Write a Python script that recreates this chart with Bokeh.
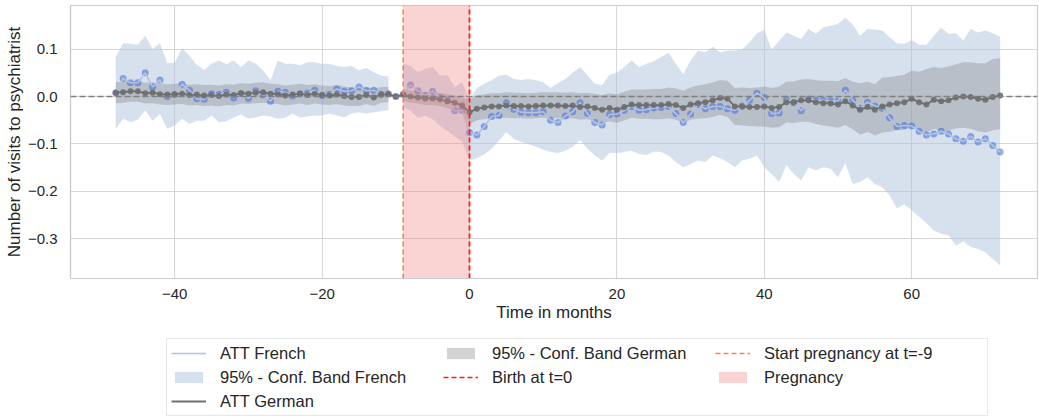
import numpy as np
from bokeh.plotting import figure
from bokeh.layouts import column
from bokeh.models import (ColumnDataSource, Legend, LegendItem, FixedTicker, Range1d,
                          Span, CustomJSTickFormatter)
from bokeh.embed import file_html
from bokeh.resources import INLINE

nan = float("nan")

# ---------------- data ----------------
months = list(range(-48, 73))

att_french = [
    # -48 .. -11
    0.008, 0.038, 0.029, 0.029, 0.050, 0.020, 0.035, 0.000, 0.004, 0.026,
    0.013, -0.005, -0.006, 0.006, 0.004, 0.009, -0.003, 0.006, -0.004, 0.012,
    0.003, -0.010, 0.011, 0.009, 0.001, 0.006, 0.007, 0.013, 0.002, 0.005,
    0.016, 0.011, 0.012, 0.020, 0.012, 0.013, 0.005, 0.006,
    # -10 (reference)
    0.0,
    # -9 .. -1
    0.005, 0.024, 0.012, 0.002, 0.011, -0.002, -0.008, -0.030, -0.029,
    # 0 .. 72
    -0.076, -0.081, -0.063, -0.042, -0.040, -0.013, -0.027, -0.033, -0.034, -0.034,
    -0.032, -0.050, -0.055, -0.041, -0.032, -0.013, -0.036, -0.055, -0.060, -0.038,
    -0.037, -0.029, -0.021, -0.029, -0.028, -0.024, -0.023, -0.021, -0.036, -0.055,
    -0.037, -0.017, -0.026, -0.021, -0.021, -0.026, -0.029, -0.020, -0.008, 0.007,
    -0.002, -0.036, -0.035, -0.006, -0.013, -0.030, -0.006, -0.008, -0.008, -0.009,
    -0.010, 0.013, -0.008, -0.025, -0.012, -0.020, -0.025, -0.045, -0.063, -0.061,
    -0.062, -0.073, -0.081, -0.079, -0.073, -0.079, -0.089, -0.094, -0.084, -0.096,
    -0.089, -0.103, -0.117,
]

french_hi = [
    0.083, 0.112, 0.111, 0.109, 0.128, 0.100, 0.112, 0.070, 0.071, 0.102,
    0.086, 0.067, 0.056, 0.069, 0.076, 0.068, 0.076, 0.062, 0.076, 0.069,
    0.055, 0.034, 0.076, 0.069, 0.069, 0.066, 0.072, 0.072, 0.069, 0.069,
    0.064, 0.062, 0.065, 0.055, 0.060, 0.051, 0.044, 0.042,
    nan,
    0.069, 0.065, 0.051, 0.058, 0.062, 0.044, 0.045, 0.020, 0.030,
    -0.008, 0.018, 0.027, 0.034, 0.044, 0.046, 0.037, 0.035, 0.037, 0.034,
    0.030, 0.018, 0.028, 0.037, 0.050, 0.062, 0.045, 0.027, 0.024, 0.046,
    0.050, 0.062, 0.076, 0.062, 0.069, 0.074, 0.083, 0.092, 0.069, 0.047,
    0.076, 0.097, 0.093, 0.105, 0.093, 0.097, 0.097, 0.099, 0.114, 0.133,
    0.140, 0.099, 0.117, 0.135, 0.128, 0.121, 0.142, 0.132, 0.146, 0.149,
    0.153, 0.166, 0.151, 0.128, 0.142, 0.141, 0.139, 0.125, 0.112, 0.111,
    0.119, 0.109, 0.109, 0.128, 0.145, 0.132, 0.133, 0.118, 0.142, 0.135,
    0.139, 0.133, 0.126,
]

french_lo = [
    -0.068, -0.047, -0.054, -0.049, -0.029, -0.051, -0.037, -0.068, -0.061, -0.047,
    -0.058, -0.051, -0.051, -0.040, -0.054, -0.052, -0.044, -0.038, -0.047, -0.044,
    -0.040, -0.042, -0.047, -0.045, -0.036, -0.044, -0.042, -0.040, -0.040, -0.036,
    -0.040, -0.044, -0.036, -0.033, -0.036, -0.033, -0.031, -0.029,
    nan,
    -0.022, -0.030, -0.045, -0.040, -0.048, -0.062, -0.072, -0.085, -0.095,
    -0.135, -0.130, -0.122, -0.110, -0.093, -0.075, -0.089, -0.096, -0.100, -0.106,
    -0.112, -0.117, -0.119, -0.114, -0.106, -0.092, -0.110, -0.124, -0.135, -0.119,
    -0.119, -0.117, -0.114, -0.121, -0.123, -0.116, -0.117, -0.124, -0.138, -0.149,
    -0.142, -0.135, -0.138, -0.124, -0.130, -0.138, -0.149, -0.135, -0.131, -0.124,
    -0.149, -0.163, -0.180, -0.145, -0.163, -0.177, -0.149, -0.156, -0.149, -0.152,
    -0.170, -0.140, -0.184, -0.180, -0.170, -0.184, -0.191, -0.208, -0.236, -0.227,
    -0.240, -0.253, -0.267, -0.282, -0.289, -0.292, -0.314, -0.305, -0.317, -0.321,
    -0.328, -0.342, -0.356,
]

att_german = [
    0.008, 0.009, 0.011, 0.011, 0.007, 0.008, 0.005, 0.004, 0.005, 0.006,
    0.003, 0.004, 0.002, 0.003, 0.001, 0.004, 0.003, 0.007, 0.006, 0.008,
    0.009, 0.006, 0.005, 0.002, 0.004, 0.006, 0.003, 0.006, 0.003, 0.002,
    0.004, 0.001, -0.001, -0.001, 0.003, -0.002, 0.004, 0.005,
    0.0,
    0.004, 0.000, -0.002, -0.004, -0.004, -0.006, -0.010, -0.013, -0.019,
    -0.033, -0.026, -0.023, -0.021, -0.021, -0.019, -0.020, -0.020, -0.021, -0.020,
    -0.019, -0.019, -0.019, -0.020, -0.019, -0.022, -0.021, -0.024, -0.028, -0.024,
    -0.028, -0.022, -0.017, -0.018, -0.018, -0.018, -0.018, -0.016, -0.018, -0.024,
    -0.017, -0.014, -0.012, -0.008, -0.003, -0.005, -0.021, -0.021, -0.022, -0.022,
    -0.021, -0.024, -0.022, -0.012, -0.012, -0.008, -0.008, -0.012, -0.014, -0.015,
    -0.017, -0.010, -0.019, -0.028, -0.022, -0.028, -0.021, -0.017, -0.014, -0.012,
    -0.005, -0.012, -0.017, -0.007, -0.010, -0.008, -0.002, 0.000, -0.001, -0.005,
    -0.007, -0.001, 0.002,
]

german_hi = [
    0.030, 0.031, 0.032, 0.032, 0.029, 0.030, 0.027, 0.026, 0.027, 0.028,
    0.025, 0.026, 0.024, 0.025, 0.023, 0.026, 0.025, 0.028, 0.027, 0.029,
    0.030, 0.027, 0.026, 0.023, 0.025, 0.027, 0.024, 0.026, 0.023, 0.022,
    0.024, 0.021, 0.019, 0.018, 0.021, 0.016, 0.020, 0.020,
    nan,
    0.016, 0.013, 0.011, 0.010, 0.010, 0.008, 0.005, 0.002, -0.003,
    -0.006, 0.002, 0.005, 0.007, 0.007, 0.009, 0.008, 0.008, 0.007, 0.008,
    0.009, 0.009, 0.009, 0.008, 0.009, 0.007, 0.008, 0.006, 0.003, 0.007,
    0.004, 0.010, 0.015, 0.015, 0.015, 0.016, 0.016, 0.019, 0.017, 0.012,
    0.019, 0.023, 0.026, 0.030, 0.035, 0.033, 0.018, 0.019, 0.018, 0.019,
    0.021, 0.018, 0.021, 0.031, 0.032, 0.036, 0.037, 0.034, 0.033, 0.033,
    0.032, 0.039, 0.031, 0.028, 0.031, 0.026, 0.040, 0.041, 0.043, 0.046,
    0.055, 0.052, 0.058, 0.062, 0.060, 0.063, 0.068, 0.072, 0.072, 0.070,
    0.070, 0.079, 0.081,
]

german_lo = [
    -0.014, -0.013, -0.011, -0.011, -0.015, -0.014, -0.017, -0.018, -0.017, -0.016,
    -0.019, -0.018, -0.020, -0.019, -0.021, -0.018, -0.019, -0.015, -0.016, -0.014,
    -0.013, -0.015, -0.016, -0.019, -0.017, -0.015, -0.018, -0.015, -0.017, -0.018,
    -0.016, -0.019, -0.020, -0.020, -0.016, -0.020, -0.013, -0.012,
    nan,
    -0.009, -0.013, -0.015, -0.018, -0.018, -0.020, -0.025, -0.028, -0.035,
    -0.058, -0.050, -0.048, -0.046, -0.046, -0.045, -0.046, -0.046, -0.047, -0.046,
    -0.045, -0.046, -0.046, -0.047, -0.046, -0.049, -0.048, -0.052, -0.056, -0.052,
    -0.056, -0.050, -0.045, -0.047, -0.047, -0.048, -0.048, -0.046, -0.049, -0.056,
    -0.049, -0.047, -0.046, -0.043, -0.039, -0.043, -0.060, -0.061, -0.062, -0.063,
    -0.063, -0.066, -0.065, -0.055, -0.056, -0.053, -0.053, -0.058, -0.061, -0.063,
    -0.066, -0.060, -0.069, -0.080, -0.075, -0.082, -0.076, -0.074, -0.071, -0.070,
    -0.064, -0.072, -0.077, -0.068, -0.073, -0.072, -0.067, -0.066, -0.068, -0.073,
    -0.076, -0.071, -0.069,
]

reference_month = -10
pregnancy_start = -9
birth = 0

x_tick_values = [-40, -20, 0, 20, 40, 60]
y_tick_values = [-0.3, -0.2, -0.1, 0.0, 0.1]
x_label = "Time in months"
y_label = "Number of visits to psychiatrist"

labels = {
    "att_fr": "ATT French",
    "band_fr": "95% - Conf. Band French",
    "att_de": "ATT German",
    "band_de": "95% - Conf. Band German",
    "birth": "Birth at t=0",
    "start": "Start pregnancy at t=-9",
    "preg": "Pregnancy",
}

# ---------------- styles ----------------
FONT = "Liberation Sans"
TXT = "#262626"
SPINE = "#cccccc"
C_FR_BAND = "#b0c4de"
C_FR_DOT = "#4169e1"
C_DE = "#6e6e6e"
C_DE_BAND = "#808080"
C_PREG = "#f08080"
C_START = "#ff7f50"
C_BIRTH = "#ff1a1a"

# ---------------- build ----------------
t = np.array(months, dtype=float)
fr = np.array(att_french, dtype=float)
de = np.array(att_german, dtype=float)
flo = np.array(french_lo, dtype=float)
fhi = np.array(french_hi, dtype=float)
glo = np.array(german_lo, dtype=float)
ghi = np.array(german_hi, dtype=float)

pre = t < reference_month
post = t > reference_month

src = ColumnDataSource(dict(t=t, fr=fr, de=de))
src_pre = ColumnDataSource(dict(t=t[pre], flo=flo[pre], fhi=fhi[pre], glo=glo[pre], ghi=ghi[pre]))
src_post = ColumnDataSource(dict(t=t[post], flo=flo[post], fhi=fhi[post], glo=glo[post], ghi=ghi[post]))

X0, X1 = -54.14, 77.07
Y0, Y1 = -0.3832, 0.1916

p = figure(frame_width=967, frame_height=273,
           x_range=Range1d(X0, X1), y_range=Range1d(Y0, Y1),
           output_backend="svg", toolbar_location=None,
           min_border_left=70, min_border_right=2, min_border_top=5, min_border_bottom=54,
           background_fill_color="white", border_fill_color="white")

p.outline_line_color = SPINE
p.outline_line_width = 1.2

for ax in (p.xaxis[0], p.yaxis[0]):
    ax.axis_line_color = SPINE
    ax.axis_line_width = 1.2
    ax.major_tick_line_color = None
    ax.minor_tick_line_color = None
    ax.major_label_text_font = FONT
    ax.major_label_text_font_size = "15px"
    ax.major_label_text_color = TXT
    ax.axis_label_text_font = FONT
    ax.axis_label_text_font_size = "17px"
    ax.axis_label_text_font_style = "normal"
    ax.axis_label_text_color = TXT

p.xaxis.ticker = FixedTicker(ticks=x_tick_values)
p.yaxis.ticker = FixedTicker(ticks=y_tick_values)
p.xaxis.formatter = CustomJSTickFormatter(code="return tick.toFixed(0).replace('-', '\u2212');")
p.yaxis.formatter = CustomJSTickFormatter(code="return tick.toFixed(1).replace('-', '\u2212');")
p.xaxis.major_label_standoff = 4
p.yaxis.major_label_standoff = 7
p.xaxis.axis_label = x_label
p.yaxis.axis_label = y_label
p.xaxis.axis_label_standoff = 1
p.yaxis.axis_label_standoff = 1

p.xgrid.grid_line_color = "#d6d6d6"
p.ygrid.grid_line_color = "#d6d6d6"
p.xgrid.grid_line_width = 1.1
p.ygrid.grid_line_width = 1.1

# bands
p.varea(x="t", y1="flo", y2="fhi", source=src_pre, fill_color=C_FR_BAND, fill_alpha=0.5)
p.varea(x="t", y1="flo", y2="fhi", source=src_post, fill_color=C_FR_BAND, fill_alpha=0.5)
p.varea(x="t", y1="glo", y2="ghi", source=src_pre, fill_color=C_DE_BAND, fill_alpha=0.35)
p.varea(x="t", y1="glo", y2="ghi", source=src_post, fill_color=C_DE_BAND, fill_alpha=0.35)

# French ATT
p.scatter(x="t", y="fr", source=src, size=7, fill_color=C_FR_DOT, fill_alpha=0.55, line_color=None)
p.line(x="t", y="fr", source=src, line_color=C_FR_BAND, line_width=1.6)

# German ATT
p.scatter(x="t", y="de", source=src, size=6, fill_color=C_DE, fill_alpha=0.9, line_color=None)
p.line(x="t", y="de", source=src, line_color=C_DE, line_width=1.8)

# pregnancy
p.quad(left=[pregnancy_start], right=[birth], bottom=[Y0], top=[Y1],
       fill_color=C_PREG, fill_alpha=0.35, line_color=None)

# zero line
p.add_layout(Span(location=0, dimension="width", line_color="#808080",
                  line_width=1.5, line_dash="6 3"))

p.segment(x0=[pregnancy_start], x1=[pregnancy_start], y0=[Y0], y1=[Y1],
          line_color=C_START, line_width=1.6, line_dash="5 3")
p.segment(x0=[birth], x1=[birth], y0=[Y0], y1=[Y1],
          line_color=C_BIRTH, line_width=1.8, line_dash="5 3")

# ---------------- legend (own strip below the plot) ----------------
lg_fig = figure(width=1039, height=86, x_range=Range1d(0, 1), y_range=Range1d(0, 1),
                output_backend="svg", toolbar_location=None,
                min_border_left=0, min_border_right=0, min_border_top=0, min_border_bottom=0,
                background_fill_color="white", border_fill_color="white")
lg_fig.axis.visible = False
lg_fig.grid.visible = False
lg_fig.outline_line_color = None

# key renderers: a single point kept outside the strip's visible range
key = ColumnDataSource(dict(x=[-5.0], y=[-5.0], y2=[-5.0]))
k_fr = lg_fig.line(x="x", y="y", source=key, line_color=C_FR_BAND, line_width=1.6)
k_frb = lg_fig.varea(x="x", y1="y", y2="y2", source=key, fill_color=C_FR_BAND, fill_alpha=0.5)
k_de = lg_fig.line(x="x", y="y", source=key, line_color=C_DE, line_width=1.8)
k_deb = lg_fig.varea(x="x", y1="y", y2="y2", source=key, fill_color=C_DE_BAND, fill_alpha=0.35)
k_birth = lg_fig.line(x="x", y="y", source=key, line_color=C_BIRTH, line_width=1.6, line_dash="5 3")
k_blank = lg_fig.line(x="x", y="y", source=key, line_alpha=0.0)
k_start = lg_fig.line(x="x", y="y", source=key, line_color=C_START, line_width=1.6, line_dash="5 3")
k_preg = lg_fig.varea(x="x", y1="y", y2="y2", source=key, fill_color=C_PREG, fill_alpha=0.35)

legend = Legend(items=[
    LegendItem(label=labels["att_fr"], renderers=[k_fr]),
    LegendItem(label=labels["band_fr"], renderers=[k_frb]),
    LegendItem(label=labels["att_de"], renderers=[k_de]),
    LegendItem(label=labels["band_de"], renderers=[k_deb]),
    LegendItem(label=labels["birth"], renderers=[k_birth]),
    LegendItem(label=" ", renderers=[k_blank]),
    LegendItem(label=labels["start"], renderers=[k_start]),
    LegendItem(label=labels["preg"], renderers=[k_preg]),
], location=(96, 2), orientation="vertical", nrows=3)
legend.label_text_font = FONT
legend.label_text_font_size = "16.5px"
legend.label_text_color = TXT
legend.label_height = 20
legend.label_width = 219
legend.glyph_height = 14
legend.glyph_width = 35
legend.label_standoff = 14
legend.spacing = 4
legend.padding = 4
legend.margin = 0
legend.border_line_color = "#d0d0d0"
legend.border_line_width = 1
legend.background_fill_color = "white"
legend.background_fill_alpha = 1.0
lg_fig.add_layout(legend)

layout = column(p, lg_fig, spacing=0)
open("out.html", "w").write(file_html(layout, INLINE))
